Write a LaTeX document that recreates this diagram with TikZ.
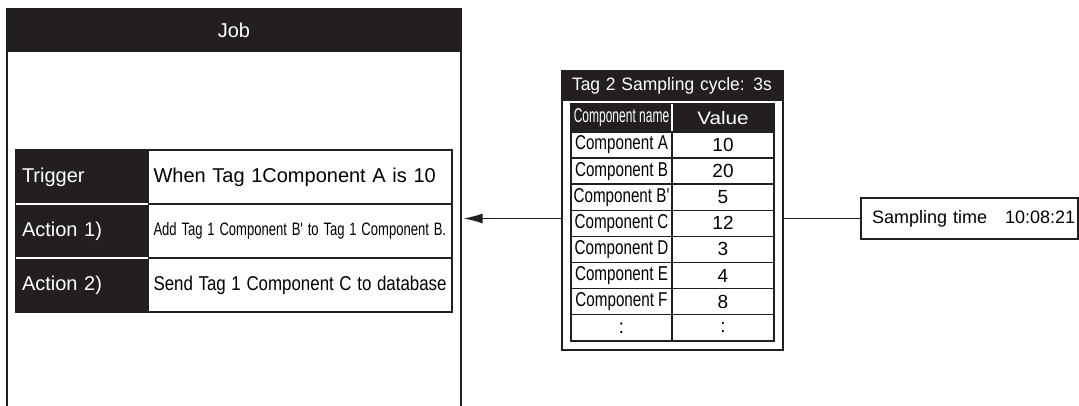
\documentclass[tikz,border=0pt]{standalone}
\usepackage{fontspec}
\setmainfont{Liberation Sans}
\usepackage{graphicx}
\usepackage{tikz}
\usetikzlibrary{positioning, arrows.meta}
\definecolor{ink}{HTML}{231F20}
\newcommand{\bigtxt}{\fontsize{20}{24}\selectfont}
\newcommand{\smalltxt}{\fontsize{18}{21}\selectfont}
\newcommand{\rowtxt}{\fontsize{20}{23}\selectfont}
\newcommand{\narrow}[2]{\scalebox{#1}[1]{#2}}

\begin{document}
\begin{tikzpicture}[x=1pt, y=-1pt,
  frame/.style={draw=ink, line width=1.6pt, inner sep=0pt, outer sep=0pt, anchor=north west},
  band/.style={fill=ink, draw=ink, line width=1.6pt, text=white, inner sep=0pt,
               outer sep=0pt, anchor=north west},
  dark/.style={fill=ink, draw=ink, line width=1.5pt, text=white, inner ysep=0pt,
               outer sep=0pt, anchor=north west},
  cell/.style={draw=ink, fill=white, line width=1.5pt, inner ysep=0pt, outer sep=0pt,
               anchor=north west},
  jobkey/.style={dark, text width=120pt, inner xsep=6pt, minimum height=54pt,
                 align=left, font=\bigtxt},
  jobval/.style={cell, text width=293pt, inner xsep=5.5pt, minimum height=54pt,
                 align=left, font=\bigtxt},
  namecell/.style={cell, minimum width=101pt, minimum height=26.1pt, inner xsep=0pt, font=\rowtxt},
  valcell/.style={cell, minimum width=102pt, minimum height=26.1pt, inner xsep=0pt, font=\fontsize{19}{22}\selectfont},
  sep/.style={draw=white, line width=1.5pt},
  link/.style={draw=ink, line width=1.5pt},
]
\useasboundingbox (0,0) rectangle (1079,405);
% job frame (runs off the bottom)
\node[frame, minimum width=454pt, minimum height=420pt] (job) at (7,9) {};
\node[band, minimum width=454pt, minimum height=42pt, font=\bigtxt] (jobhead) at (7,9) {Job};
% trigger / action table
\node[jobkey] (trig) at (16,150) {Trigger};
\node[jobval] (trigtxt) at (148,150) {When Tag 1Component A is 10};
\node[jobkey, below=0pt of trig] (act1) {Action 1)};
\node[jobval, below=0pt of trigtxt] (act1txt)
  {\fontsize{18}{21}\selectfont\narrow{0.725}{Add Tag 1 Component B\textquotesingle{} to Tag 1 Component B.}};
\node[jobkey, below=0pt of act1] (act2) {Action 2)};
\node[jobval, below=0pt of act1txt] (act2txt) {\narrow{0.845}{Send Tag 1 Component C to database}};
\draw[sep] (act1.north west) -- (act1.north east);
\draw[sep] (act2.north west) -- (act2.north east);
% tag 2 box
\node[frame, minimum width=221pt, minimum height=279pt] (tag) at (562,71) {};
\node[band, minimum width=221pt, minimum height=29pt, text width=201pt, inner xsep=10pt,
      align=left, font=\smalltxt] (tagtitle) at (562,71) {\narrow{0.97}{Tag 2 Sampling cycle: 3s}};
\node[dark, minimum width=101pt, minimum height=28pt, inner xsep=0pt, font=\rowtxt]
  (hname) at (571,104) {\narrow{0.6}{Component name}};
\node[dark, minimum width=102pt, minimum height=28pt, inner xsep=0pt, font=\smalltxt,
      right=0pt of hname] (hval) {\narrow{1.15}{Value}};
\draw[sep] (hname.north east) -- (hname.south east);
% rows
\node[namecell, below=0pt of hname] (ca) {\narrow{0.76}{Component A}};
\node[valcell, right=0pt of ca] (va) {10};
\node[namecell, below=0pt of ca] (cb) {\narrow{0.76}{Component B}};
\node[valcell, right=0pt of cb] (vb) {20};
\node[namecell, below=0pt of cb] (cbb) {\narrow{0.76}{Component B\textquotesingle}};
\node[valcell, right=0pt of cbb] (vbb) {5};
\node[namecell, below=0pt of cbb] (cc) {\narrow{0.76}{Component C}};
\node[valcell, right=0pt of cc] (vc) {12};
\node[namecell, below=0pt of cc] (cd) {\narrow{0.76}{Component D}};
\node[valcell, right=0pt of cd] (vd) {3};
\node[namecell, below=0pt of cd] (ce) {\narrow{0.76}{Component E}};
\node[valcell, right=0pt of ce] (ve) {4};
\node[namecell, below=0pt of ce] (cf) {\narrow{0.76}{Component F}};
\node[valcell, right=0pt of cf] (vf) {8};
\node[namecell, below=0pt of cf] (cmore) {:};
\node[valcell, right=0pt of cmore] (vmore) {:};
% sampling time
\node[cell, text width=205pt, inner xsep=6pt, minimum height=41pt, align=left,
      font=\smalltxt] (samp) at (861,198) {\hspace*{5pt}\mbox{Sampling time\quad 10:08:21}};
% links
\draw[link] (samp.west) -- (samp.west -| tag.east);
\draw[link, -{Latex[length=19pt, width=10pt]}, shorten >=2.5pt]
  (samp.west -| tag.west) -- (samp.west -| job.east);
\end{tikzpicture}
\end{document}
